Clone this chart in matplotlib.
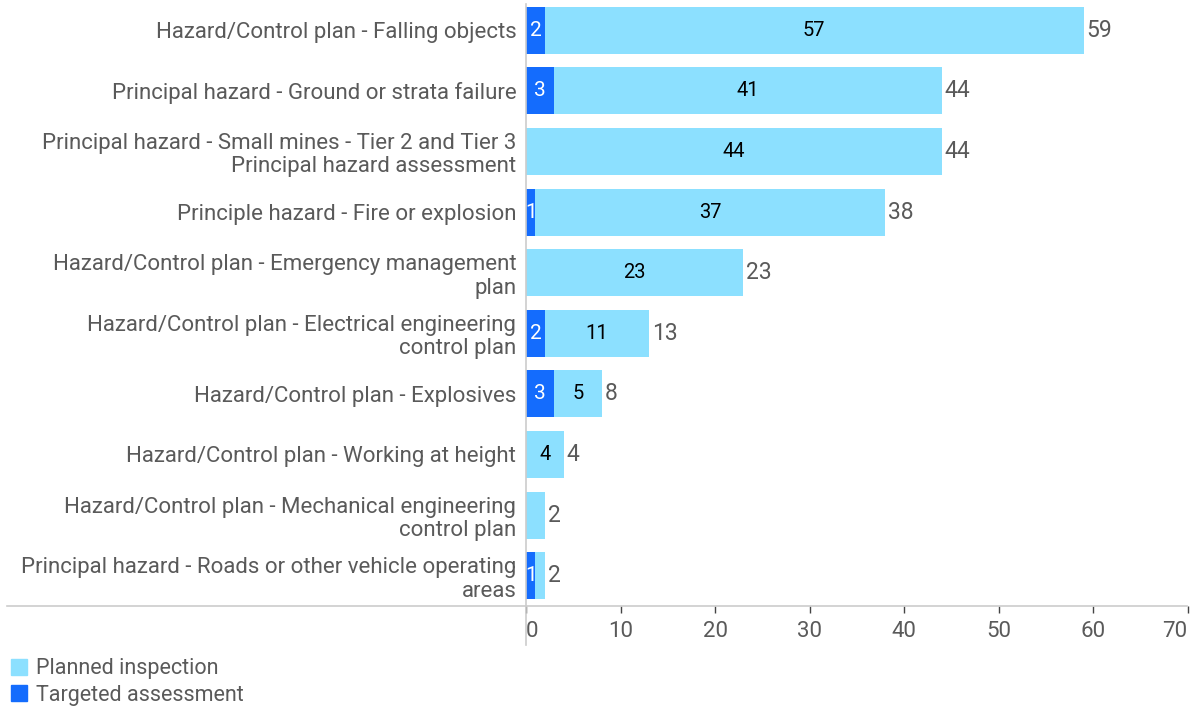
import matplotlib.pyplot as plt
from matplotlib.patches import Patch
import numpy as np

plt.rcParams['font.family'] = ['Roboto', 'DejaVu Sans']

categorias = [
    'Hazard/Control plan - Falling objects',
    'Principal hazard - Ground or strata failure',
    'Principal hazard - Small mines - Tier 2 and Tier 3\nPrincipal hazard assessment',
    'Principle hazard - Fire or explosion',
    'Hazard/Control plan - Emergency management\nplan',
    'Hazard/Control plan - Electrical engineering\ncontrol plan',
    'Hazard/Control plan - Explosives',
    'Hazard/Control plan - Working at height',
    'Hazard/Control plan - Mechanical engineering\ncontrol plan',
    'Principal hazard - Roads or other vehicle operating\nareas',
]
dirigida = [2, 3, 0, 1, 0, 2, 3, 0, 0, 1]
planificada = [57, 41, 44, 37, 23, 11, 5, 4, 2, 1]
xticks = [0, 10, 20, 30, 40, 50, 60, 70]

col_plan = '#8CE0FF'
col_dir = '#146CFD'
gris = '#5a5a5a'
linea = '#cccccc'

fig = plt.figure(figsize=(11.95, 7.06), dpi=100)
ax = fig.add_axes([526 / 1195, 1 - 606 / 706, (1187.5 - 526) / 1195, 606 / 706])

y = np.arange(len(categorias))
dirigida = np.array(dirigida)
planificada = np.array(planificada)
total = dirigida + planificada

ax.barh(y, dirigida, height=0.775, color=col_dir)
ax.barh(y, planificada, left=dirigida, height=0.775, color=col_plan)

for i in range(len(y)):
    if dirigida[i] > 0:
        ax.text(dirigida[i] / 2, y[i], str(dirigida[i]), color='white',
                ha='center', va='center', fontsize=15)
    if planificada[i] >= 4:
        ax.text(dirigida[i] + planificada[i] / 2, y[i], str(planificada[i]),
                color='black', ha='center', va='center', fontsize=14.5)
    ax.text(total[i] + 0.3, y[i], str(total[i]), color=gris,
            ha='left', va='center', fontsize=16.5)

ax.set_ylim(len(y) - 0.5, -0.5)
ax.set_xlim(0, 70)
ax.set_yticks(y)
ax.set_yticklabels(categorias, color=gris, fontsize=16, linespacing=1.15)
ax.tick_params(axis='y', length=0, pad=7)
ax.set_xticks(xticks)
ax.set_xticklabels([str(t) for t in xticks], color=gris, fontsize=16)
ax.tick_params(axis='x', length=5, width=1, color='#444444', pad=6)
etiquetas = ax.get_xticklabels()
etiquetas[0].set_ha('left')
etiquetas[-1].set_ha('right')

for s in ax.spines.values():
    s.set_visible(False)

# lineas de los ejes
fig.add_artist(plt.Line2D([7 / 1195, 1187 / 1195], [1 - 606 / 706] * 2,
                          color=linea, lw=1.2))
fig.add_artist(plt.Line2D([526 / 1195] * 2, [1 - 645 / 706, 1 - 4 / 706],
                          color=linea, lw=1.2))

handles = [Patch(color=col_plan), Patch(color=col_dir)]
fig.legend(handles, ['Planned inspection', 'Targeted assessment'],
           loc='lower left', bbox_to_anchor=(7 / 1195, -4 / 706), frameon=False,
           fontsize=15.5, handlelength=0.75, handleheight=0.75,
           handletextpad=0.4, labelspacing=0.25, borderaxespad=0.0,
           borderpad=0.2, labelcolor=gris)

plt.savefig('out.png', dpi=100)
